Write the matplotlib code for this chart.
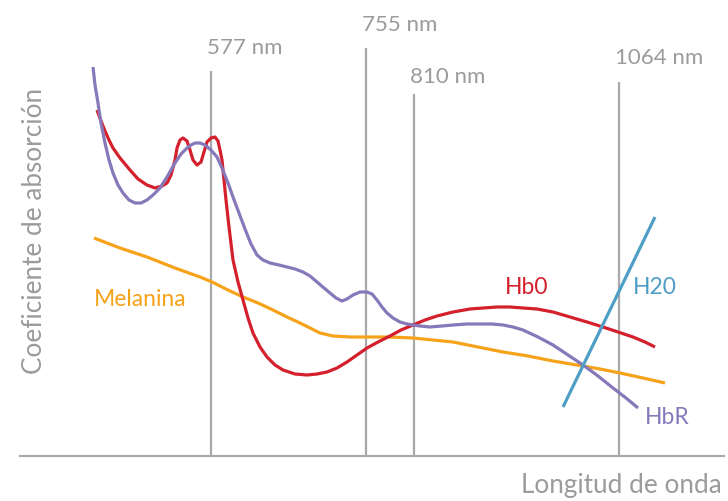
import matplotlib
matplotlib.use("Agg")
import matplotlib.pyplot as plt

plt.rcParams['font.family'] = ['Lato', 'DejaVu Sans']

# curves (x position, absorption height)
hb0_x = [97, 101, 105, 109, 113, 120, 130, 138, 147, 155, 162, 167, 171, 175, 177, 180, 183, 187, 190, 193, 197, 201,
         204, 207, 211, 215, 218, 220, 222, 224, 226, 229, 233, 238, 243, 248, 253, 260, 267, 275, 283, 295,
         307, 317, 327, 337, 347, 357, 367, 378, 390, 401, 413, 425, 437, 453, 470, 483, 497, 510, 523, 537,
         553, 570, 587, 603, 618, 633, 645, 655]
hb0_y = [391, 380, 370, 361, 353, 343, 331, 322, 316, 313, 315, 318, 326, 341, 353, 361, 363, 360, 351, 341, 336, 339,
         349, 359, 363, 364, 360, 351, 341, 321, 301, 274, 241, 219, 201, 183, 168, 154, 144, 136, 131, 127,
         126, 127, 129, 133, 139, 146, 153, 159, 165, 171, 176, 181, 185, 189, 192, 193, 194, 194, 193, 192,
         189, 184, 179, 174, 169, 164, 159, 154]

hbr_x = [93, 95, 98, 101, 105, 109, 113, 118, 123, 129, 135, 141, 147, 153, 160, 167, 175, 181, 187, 191,
         195, 200, 205, 211, 217, 222, 228, 233, 239, 245, 251, 257, 263, 270, 279, 287, 295, 303, 310, 317,
         324, 330, 336, 342, 347, 353, 360, 367, 372, 377, 382, 387, 393, 400, 407, 413, 420, 430, 442, 453,
         467, 480, 492, 503, 513, 523, 538, 553, 568, 583, 598, 613, 626, 638]
hbr_y = [434, 416, 398, 378, 358, 341, 328, 316, 308, 301, 298, 298, 301, 306, 313, 324, 338, 347, 353, 356,
         358, 358, 356, 351, 344, 333, 318, 304, 288, 272, 257, 246, 241, 238, 236, 234, 232, 229, 225, 219,
         213, 208, 203, 200, 202, 206, 209, 209, 207, 201, 194, 188, 183, 179, 177, 176, 175, 174, 175, 176,
         177, 177, 177, 176, 174, 171, 164, 156, 146, 136, 125, 113, 103, 93]

mel_x = [94, 120, 147, 175, 200, 212, 228, 243, 258, 273, 287, 300, 310, 320, 333, 350, 367, 390, 413, 433,
         453, 478, 503, 528, 553, 583, 600, 620, 643, 665]
mel_y = [263, 253, 244, 233, 224, 219, 211, 204, 198, 191, 184, 178, 173, 168, 165, 164, 164, 164, 163, 161,
         159, 154, 149, 145, 140, 135, 132, 128, 123, 118]

h2o_x = [563, 655]
h2o_y = [94, 284]

# wavelength markers
wl_labels = ['577 nm', '755 nm', '810 nm', '1064 nm']
wl_x = [211, 366, 414, 619]
wl_top = [430, 453, 407, 419]
wl_text_y = [453, 476, 424, 443]

base_y = 45
gray = '#a9a9ab'
txt_gray = '#9b9b9b'
red = '#d4202c'
purple = '#8778ba'
orange = '#f7a21b'
blue = '#4f9ec6'

fig = plt.figure(figsize=(7.28, 5.01), dpi=100)
ax = fig.add_axes([0, 0, 1, 1])
ax.set_xlim(0, 728)
ax.set_ylim(0, 501)
ax.axis('off')

ax.plot([19, 725], [base_y, base_y], color=gray, lw=1.6, solid_capstyle='butt')
for lab, x, top, ty in zip(wl_labels, wl_x, wl_top, wl_text_y):
    ax.plot([x, x], [base_y, top], color=gray, lw=1.6, solid_capstyle='butt')
    ax.text(x - 4, ty, lab, color=txt_gray, fontsize=16, ha='left', va='center')

style = dict(lw=2.3, solid_capstyle='butt', solid_joinstyle='round')
ax.plot(mel_x, mel_y, color=orange, **style)
ax.plot(hb0_x, hb0_y, color=red, **style)
ax.plot(hbr_x, hbr_y, color=purple, **style)
ax.plot(h2o_x, h2o_y, color=blue, **style)

ax.text(94, 201, 'Melanina', color=orange, fontsize=16.5, ha='left', va='center')
ax.text(505, 214, 'Hb0', color=red, fontsize=16.5, ha='left', va='center')
ax.text(633, 214, 'H20', color=blue, fontsize=16.5, ha='left', va='center')
ax.text(645, 84, 'HbR', color=purple, fontsize=16.5, ha='left', va='center')

ax.text(722, 15, 'Longitud de onda', color=txt_gray, fontsize=18.8, ha='right', va='center')
ax.text(35, 270, 'Coeficiente de absorción', color=txt_gray, fontsize=18.8, ha='center', va='center',
        rotation=90)

fig.savefig('out.png', dpi=100)
